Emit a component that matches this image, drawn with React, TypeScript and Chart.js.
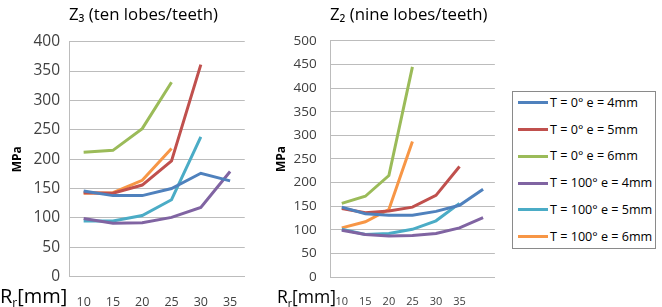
import React, { useEffect, useRef } from "react";
import { Chart, registerables } from "chart.js";

Chart.register(...registerables);
Chart.defaults.font.family = "'Open Sans', sans-serif";

const seriesLabels = [
  "T = 0° e = 4mm",
  "T = 0° e = 5mm",
  "T = 0° e = 6mm",
  "T = 100° e = 4mm",
  "T = 100° e = 5mm",
  "T = 100° e = 6mm",
];
const seriesColors = ["#4F81BD", "#C0504D", "#9BBB59", "#8064A2", "#4BACC6", "#F79646"];

// Z3 (ten lobes/teeth)
const z3Categories = ["10", "15", "20", "25", "30", "35"];
const z3T0e4 = [146, 138, 138, 150, 176, 163];
const z3T0e5 = [143, 142, 156, 197, 361, null];
const z3T0e6 = [212, 215, 252, 331, null, null];
const z3T100e4 = [99, 91, 92, 101, 118, 179];
const z3T100e5 = [95, 95, 104, 131, 238, null];
const z3T100e6 = [142, 143, 164, 218, null, null];

// Z2 (nine lobes/teeth)
const z2Categories = ["10", "15", "20", "25", "30", "35", ""];
const z2T0e4 = [148, 134, 131, 131, 139, 152, 186];
const z2T0e5 = [145, 136, 140, 148, 173, 234, null];
const z2T0e6 = [156, 171, 215, 445, null, null, null];
const z2T100e4 = [99, 90, 87, 88, 92, 104, 126];
const z2T100e5 = [101, 90, 92, 101, 119, 156, null];
const z2T100e6 = [104, 117, 143, 287, null, null, null];

const z3Series = [z3T0e4, z3T0e5, z3T0e6, z3T100e4, z3T100e5, z3T100e6];
const z2Series = [z2T0e4, z2T0e5, z2T0e6, z2T100e4, z2T100e5, z2T100e6];

const z3Title = "Z\u2083 (ten lobes/teeth)";
const z2Title = "Z\u2082 (nine lobes/teeth)";
const yTitle = "MPa";

const GRID = "#bcbcbc";
const TEXT = "#404040";

type Cfg = {
  title: string;
  titleSize: number;
  categories: string[];
  series: (number | null)[][];
  yMax: number;
  padRight: number;
  titleTop: number;
  titleBottom: number;
  yWidth: number;
  yTickPad: number;
  yTickSize: number;
  yTitlePad: number;
  xTickSize: number;
  xTickPad: number;
  xHeight: number;
};

function LineChart({ cfg, style }: { cfg: Cfg; style: React.CSSProperties }) {
  const ref = useRef<HTMLCanvasElement | null>(null);
  useEffect(() => {
    if (!ref.current) return;
    const chart = new Chart(ref.current, {
      type: "line",
      data: {
        labels: cfg.categories,
        datasets: cfg.series.map((d, i) => ({
          label: seriesLabels[i],
          data: d,
          borderColor: seriesColors[i],
          backgroundColor: seriesColors[i],
          borderWidth: 3,
          pointRadius: 0,
          tension: 0,
          spanGaps: false,
        })),
      },
      options: {
        animation: false,
        responsive: false,
        maintainAspectRatio: false,
        layout: { padding: { top: 0, right: cfg.padRight, bottom: 0, left: 0 } },
        plugins: {
          legend: { display: false },
          tooltip: { enabled: false },
          title: {
            display: true,
            text: cfg.title,
            align: "start",
            fullSize: false,
            color: "#000",
            font: { size: cfg.titleSize, weight: "normal", lineHeight: 1.2 },
            padding: { top: cfg.titleTop, bottom: cfg.titleBottom },
          },
        },
        scales: {
          x: {
            type: "category",
            offset: true,
            grid: { display: false, drawTicks: false },
            border: { display: true, color: GRID },
            ticks: {
              color: TEXT,
              font: { size: cfg.xTickSize },
              padding: cfg.xTickPad,
              maxRotation: 0,
              autoSkip: false,
            },
            afterFit: (s: any) => {
              s.height = cfg.xHeight;
            },
          },
          y: {
            min: 0,
            max: cfg.yMax,
            grid: { color: GRID, drawTicks: false, lineWidth: 1 },
            border: { display: true, color: GRID },
            ticks: {
              stepSize: 50,
              color: TEXT,
              font: { size: cfg.yTickSize },
              padding: cfg.yTickPad,
            },
            title: {
              display: true,
              text: yTitle,
              color: "#000",
              font: { size: 12, weight: "bold", lineHeight: 1.2 },
              padding: { top: cfg.yTitlePad, bottom: 0 },
            },
            afterFit: (s: any) => {
              s.width = cfg.yWidth;
            },
          },
        },
      },
    });
    return () => chart.destroy();
  }, [cfg]);
  return (
    <canvas
      ref={ref}
      width={style.width as number}
      height={style.height as number}
      style={{ position: "absolute", ...style }}
    />
  );
}

const z3Cfg: Cfg = {
  title: z3Title,
  titleSize: 16.8,
  categories: z3Categories,
  series: z3Series,
  yMax: 400,
  padRight: 10,
  titleTop: 5,
  titleBottom: 16.5,
  yWidth: 69,
  yTickPad: 9,
  yTickSize: 15.5,
  yTitlePad: 10.8,
  xTickSize: 12.5,
  xTickPad: 17.8,
  xHeight: 30.3,
};

const z2Cfg: Cfg = {
  title: z2Title,
  titleSize: 16.8,
  categories: z2Categories,
  series: z2Series,
  yMax: 500,
  padRight: 5,
  titleTop: 5,
  titleBottom: 15.8,
  yWidth: 68,
  yTickPad: 13.3,
  yTickSize: 13.5,
  yTitlePad: 12.8,
  xTickSize: 11,
  xTickPad: 18.4,
  xHeight: 30,
};

function AxisCaption({ left, size }: { left: number; size: number }) {
  return (
    <div
      style={{
        position: "absolute",
        left,
        top: 286,
        fontFamily: "'Open Sans', sans-serif",
        fontSize: size,
        lineHeight: "20px",
        color: "#000",
        whiteSpace: "nowrap",
      }}
    >
      R<span style={{ fontSize: "0.6em", position: "relative", top: "0.35em" }}>r</span>[mm]
    </div>
  );
}

function Legend() {
  return (
    <div
      style={{
        position: "absolute",
        left: 512,
        top: 91,
        width: 142,
        height: 156,
        border: "1px solid #8a8a8a",
        background: "#fff",
      }}
    >
      {seriesLabels.map((lab, i) => (
        <div
          key={lab}
          style={{
            position: "absolute",
            left: 5,
            top: 10.7 + i * 26.8 - 9,
            height: 18,
            display: "flex",
            alignItems: "center",
            whiteSpace: "nowrap",
          }}
        >
          <div style={{ width: 30, height: 3, background: seriesColors[i], marginRight: 2 }} />
          <span
            style={{
              fontFamily: "'Open Sans', sans-serif",
              fontSize: 12.6,
              color: "#000",
              lineHeight: "18px",
            }}
          >
            {lab}
          </span>
        </div>
      ))}
    </div>
  );
}

export default function App() {
  return (
    <div
      style={{
        position: "absolute",
        left: 0,
        top: 0,
        width: 662,
        height: 307,
        background: "#fff",
        overflow: "hidden",
      }}
    >
      <LineChart cfg={z3Cfg} style={{ left: 0, top: 0, width: 256, height: 307 }} />
      <LineChart cfg={z2Cfg} style={{ left: 262, top: 0, width: 240, height: 307 }} />
      <AxisCaption left={0} size={20} />
      <AxisCaption left={277} size={17.5} />
      <Legend />
    </div>
  );
}
